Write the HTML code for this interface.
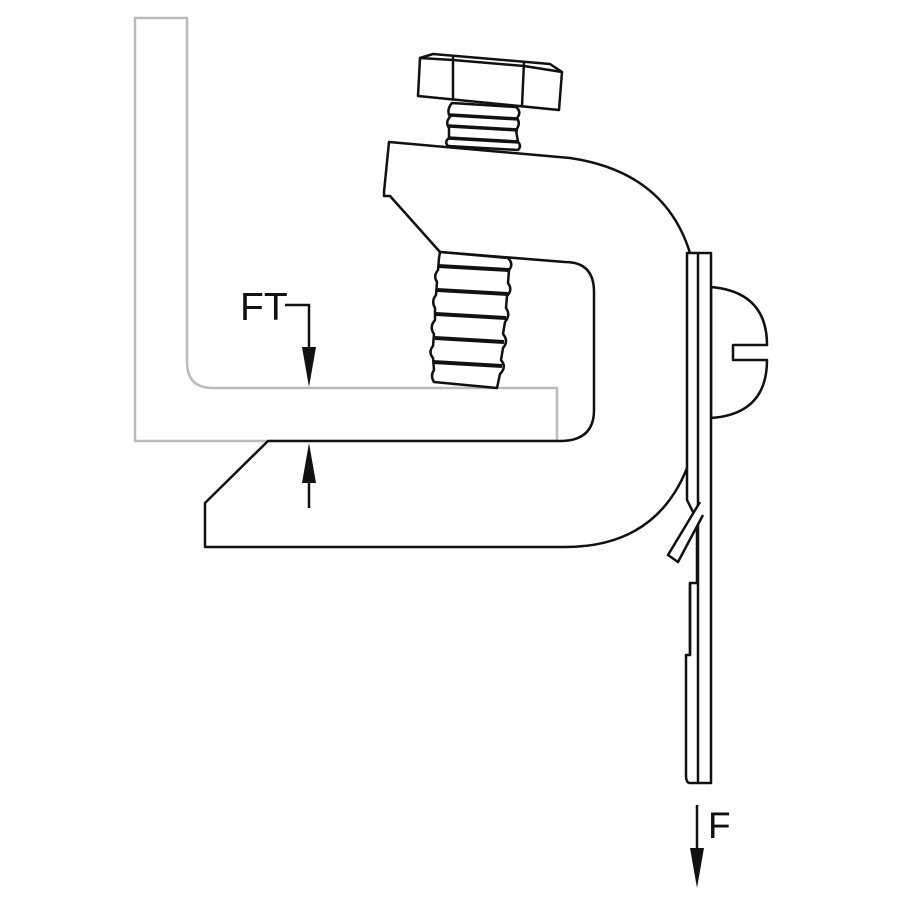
<!DOCTYPE html>
<html><head><style>body{margin:0;background:#fff}svg{display:block}</style></head>
<body>
<svg width="900" height="900" viewBox="0 0 900 900" xmlns="http://www.w3.org/2000/svg">
<rect width="900" height="900" fill="#fff"/>
<path d="M135,18 H187 V362 Q187,388 213,388 H557 V441 H135 Z" fill="#fff" stroke="#bbb" stroke-width="2.5"/>
<g fill="#fff" stroke="#111" stroke-width="2.5" stroke-linejoin="round">
<path d="M389,142 L570,158 Q665,172 690,253 L690,460 Q660,547 565,547 L205,547 L205,503 L268,441 L560,441 Q594,441 594,410 L594,292 Q594,262 565,262 L440,252 L390,196 L384,196 L384,192 Z"/>
<!-- upper threads -->
<path d="M452,103 L516,107 Q522,112 517,118 Q521,124 516,130 L518,142 Q522,146 518,150 L448,146 Q444,142 449,138 L449,128 Q445,122 450,117 Q446,110 452,103 Z"/>
<path d="M450,115 L518,119 M449,126 L518,130 M448,138 L519,142" stroke-width="3.5"/>
<!-- hex head -->
<path d="M418,96 L420,58 L433,54 L550,64 L562,72 L559,110 Z"/>
<path d="M453,57 L453,100 M524,62 L522,106 M420,58 L453,60 L524,66 L562,72"/>
<!-- lower threads -->
<path d="M440,252 L508,258 Q514,264 509,270 L508,283 Q513,290 507,296 L506,308 Q511,315 505,322 L503,334 Q509,341 503,348 L501,360 Q507,367 500,374 L497,388 L434,382 Q430,376 434,370 L433,358 Q428,352 433,346 L434,334 Q429,327 435,320 L435,308 Q431,301 436,295 L437,282 Q433,276 438,270 L439,258 Z"/>
<path d="M438,266 L510,270 M437,290 L508,294 M436,314 L506,318 M435,338 L504,342 M433,362 L502,366" stroke-width="4"/>
<!-- round screw head -->
<path d="M711,287 Q767,292 767,345 L733,345 L733,360 L767,360 Q767,414 711,418 Z"/>
<!-- strap -->
<path d="M687,253 H711 V783 H690 Q686,783 686,775 V655 H690 V583 H697 L697,520 L687,500 Z"/>
<path d="M698,253 V783" fill="none"/>
<path d="M700,502 L668,555 L678,562 L703,515"/>
<path d="M690,583 V655" fill="none"/>
</g>
<text x="240" y="320" font-family="Liberation Sans, sans-serif" font-size="39" fill="#111">FT</text>
<path d="M285,305 H309 V350" fill="none" stroke="#111" stroke-width="2.5"/>
<path d="M302,347 L316,347 L309,387 Z" fill="#111"/>
<path d="M309,480 V508" fill="none" stroke="#111" stroke-width="2.5"/>
<path d="M302,483 L316,483 L309,443 Z" fill="#111"/>
<text x="708" y="838" font-family="Liberation Sans, sans-serif" font-size="37" fill="#111">F</text>
<path d="M697,805 V850" stroke="#111" stroke-width="2.5"/>
<path d="M690,848 L704,848 L697,888 Z" fill="#111"/>
</svg>
</body></html>
